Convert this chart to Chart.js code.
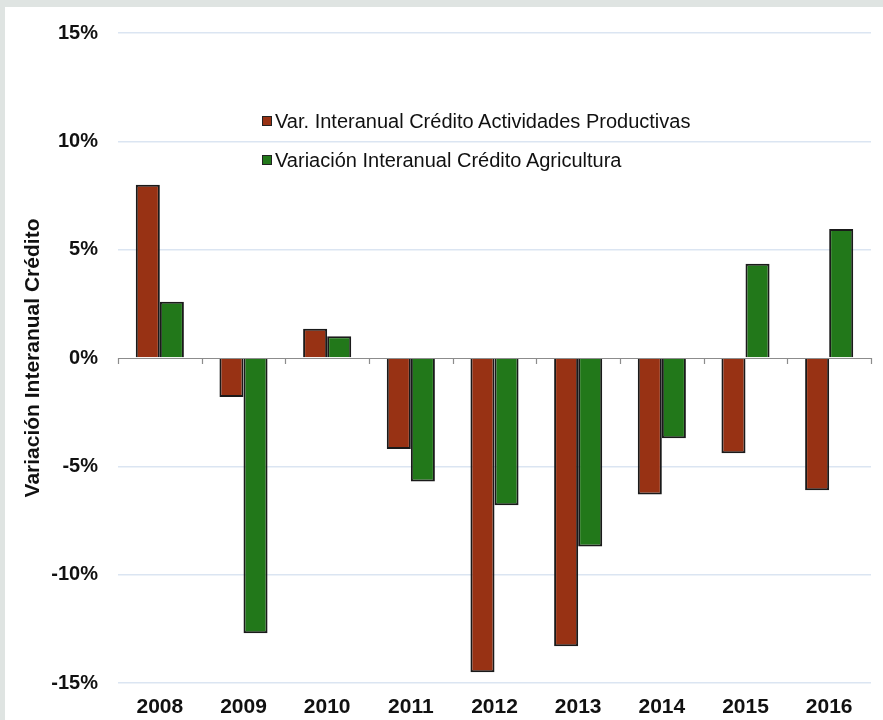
<!DOCTYPE html>
<html>
<head>
<meta charset="utf-8">
<script src="https://cdn.jsdelivr.net/npm/chart.js@4.4.1/dist/chart.umd.min.js"></script>
<style>
  body { margin: 0; background: #dfe4e2; width: 883px; height: 720px; overflow: hidden; }
  #panel { position: absolute; left: 5px; top: 7px; width: 878px; height: 713px; background: #fff; }
  #legend { position: absolute; left: 257px; top: 102px; font-family: "Liberation Sans", Arial, sans-serif; font-size: 20px; color: #111; }
  .item { height: 39px; line-height: 24px; white-space: nowrap; }
  .box { display: inline-block; width: 8px; height: 8px; border: 1.5px solid #222; margin-right: 3px; vertical-align: 2px; }
</style>
</head>
<body>
<div id="panel">
  <canvas id="myChart" width="878" height="713"></canvas>
  <div id="legend"></div>
</div>
<script>
const years = ["2008", "2009", "2010", "2011", "2012", "2013", "2014", "2015", "2016"];
const productivas = [8.0, -1.8, 1.35, -4.2, -14.5, -13.3, -6.3, -4.4, -6.1];
const agricultura = [2.6, -12.7, 1.0, -5.7, -6.8, -8.7, -3.7, 4.35, 5.95];
const seriesNames = ["Var. Interanual Crédito Actividades Productivas", "Variación Interanual Crédito Agricultura"];
const seriesColors = ["#983214", "#22781a"];
const yTicks = [-15, -10, -5, 0, 5, 10, 15];

// legend as html, placed inside the plot
const legend = document.getElementById("legend");
seriesNames.forEach((name, i) => {
     legend.innerHTML += `<div class="item"><span class="box" style="background:${seriesColors[i]}"></span>${name}</div>`;
});

// zero line with small tick marks between categories
const zeroAxis = {
     id: "zeroAxis",
     afterDatasetsDraw(chart) {
          const ctx = chart.ctx;
          const y0 = chart.scales.y.getPixelForValue(0);
          const area = chart.chartArea;
          ctx.save();
          ctx.strokeStyle = "#8c8c8c";
          ctx.lineWidth = 1.2;
          ctx.beginPath();
          ctx.moveTo(area.left, Math.round(y0) + 0.5);
          ctx.lineTo(area.right, Math.round(y0) + 0.5);
          const step = (area.right - area.left) / years.length;
          for (let i = 0; i <= years.length; i++) {
               const px = Math.round(area.left + step * i) + 0.5;
               ctx.moveTo(px, y0);
               ctx.lineTo(px, y0 + 6);
          }
          ctx.stroke();
          ctx.restore();
     }
};

const family = '"Liberation Sans", Arial, sans-serif';

const data = {
     labels: years,
     datasets: [
          {
               label: seriesNames[0],
               data: productivas,
               backgroundColor: seriesColors[0],
               borderColor: "#1a1a1a",
               borderWidth: 2,
               categoryPercentage: 0.575,
               barPercentage: 1.0
          },
          {
               label: seriesNames[1],
               data: agricultura,
               backgroundColor: seriesColors[1],
               borderColor: "#1a1a1a",
               borderWidth: 2,
               categoryPercentage: 0.575,
               barPercentage: 1.0
          }
     ]
};

const config = {
     type: "bar",
     data: data,
     plugins: [zeroAxis],
     options: {
          responsive: false,
          animation: false,
          layout: { padding: { left: 14, top: 20, right: 12, bottom: 0 } },
          plugins: { legend: { display: false }, tooltip: { enabled: false } },
          scales: {
               x: {
                    grid: { display: false, drawTicks: false },
                    border: { display: false },
                    ticks: { color: "#111", font: { family: family, size: 21, weight: "bold" }, padding: 12, maxRotation: 0 },
                    afterFit: (scale) => { scale.height = 37; }
               },
               y: {
                    min: -15,
                    max: 15,
                    afterBuildTicks: (scale) => { scale.ticks = yTicks.map(v => ({ value: v })); },
                    grid: {
                         drawTicks: true,
                         tickLength: 6,
                         tickColor: "rgba(0,0,0,0)",
                         color: (c) => c.tick && c.tick.value === 0 ? "rgba(0,0,0,0)" : "#dbe5f2",
                         lineWidth: 1.5
                    },
                    border: { display: false },
                    ticks: { color: "#111", font: { family: family, size: 20, weight: "bold" }, padding: 14, callback: (v) => v + "%" },
                    title: {
                         display: true,
                         text: "Variación Interanual Crédito",
                         color: "#111",
                         font: { family: family, size: 21, weight: "bold" },
                         padding: { top: 2, bottom: 4 }
                    },
                    afterFit: (scale) => { scale.width = 99; }
               }
          }
     }
};

const myChart = new Chart(document.getElementById("myChart"), config);
</script>
</body>
</html>
